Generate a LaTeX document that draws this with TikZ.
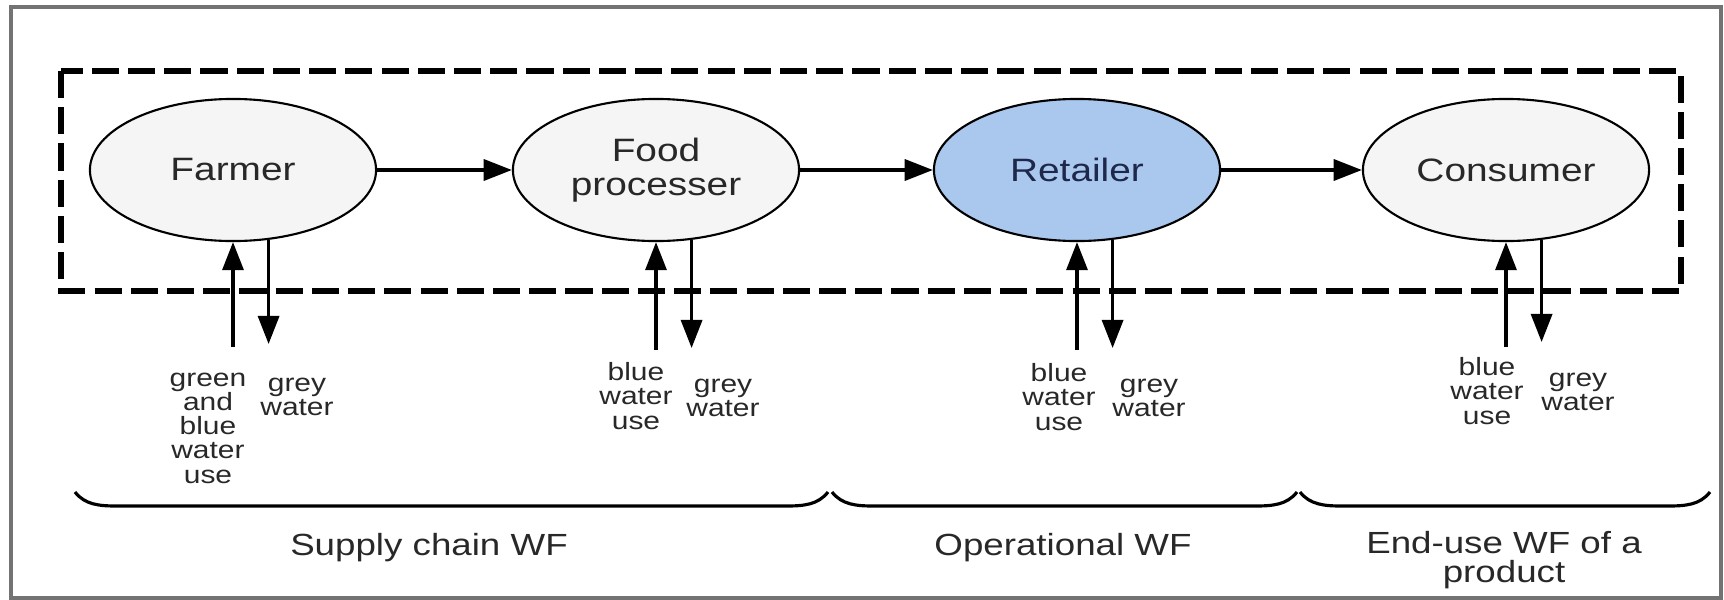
\documentclass[tikz,border=0pt]{standalone}
\usepackage{fontspec}
\setmainfont[FakeStretch=1.2]{Liberation Sans}
\usetikzlibrary{shapes.geometric,arrows.meta}

\definecolor{stagefill}{RGB}{245,245,245}
\definecolor{retailfill}{RGB}{170,200,238}
\definecolor{retailtext}{RGB}{30,40,75}
\definecolor{inkgrey}{RGB}{40,40,40}
\newcommand\tightlines{\lineskiplimit=-5pt\relax}

\begin{document}
\begin{tikzpicture}[x=0.01cm,y=-0.01cm,
		stage/.style={ellipse,draw,line width=0.6pt,fill=stagefill,minimum width=2.86cm,minimum height=1.42cm,inner sep=0pt,align=center,text=inkgrey,font=\fontsize{9.2}{9.6}\selectfont},
		flow/.style={line width=0.9pt,-{Triangle[length=8pt,width=6pt]}},
		note/.style={align=center,inner sep=0pt,text=inkgrey,font=\fontsize{7.1}{6.9}\selectfont\tightlines},
		phase/.style={align=center,inner sep=0pt,text=inkgrey,font=\fontsize{8.7}{8.2}\selectfont\tightlines},
		brace/.style={line width=0.9pt}]
		\useasboundingbox (0,0) rectangle (1724,600);
		\draw[black!55,line width=0.9pt] (11,7) rectangle (1721,598);
		% system boundary
		\draw[line width=1.5pt,dash pattern=on 7.7pt off 2.6pt] (61,71) rectangle (1681,291);
		% the four stages
		\node[stage] (farmer) at (233,170) {Farmer};
		\node[stage] (processer) at (656,170) {Food\\processer};
		\node[stage,fill=retailfill,text=retailtext] (retailer) at (1077,170) {Retailer};
		\node[stage] (consumer) at (1506,170) {Consumer};
		\draw[flow] (farmer) -- (processer);
		\draw[flow] (processer) -- (retailer);
		\draw[flow] (retailer) -- (consumer);
		% water in and out
		\coordinate (farmerin) at (233,347);
		\coordinate (farmerout) at (268,344);
		\coordinate (processerin) at (656,350);
		\coordinate (processerout) at (691,348);
		\coordinate (retailerin) at (1077,350);
		\coordinate (retailerout) at (1112,348);
		\coordinate (consumerin) at (1506,347);
		\coordinate (consumerout) at (1541,342);
		\draw[flow] (farmerin) -- (farmer.south);
		\draw[flow] (farmer.-63) -- (farmer.-63 |- farmerout);
		\draw[flow] (processerin) -- (processer.south);
		\draw[flow] (processer.-63) -- (processer.-63 |- processerout);
		\draw[flow] (retailerin) -- (retailer.south);
		\draw[flow] (retailer.-63) -- (retailer.-63 |- retailerout);
		\draw[flow] (consumerin) -- (consumer.south);
		\draw[flow] (consumer.-63) -- (consumer.-63 |- consumerout);
		\node[note] (farmeruse) at (208,428) {green\\and\\blue\\water\\use};
		\node[note] (farmergrey) at (297,397) {grey\\water};
		\node[note] (processeruse) at (636,396) {blue\\water\\use};
		\node[note] (processergrey) at (723,398) {grey\\water};
		\node[note] (retaileruse) at (1059,397) {blue\\water\\use};
		\node[note] (retailergrey) at (1149,398) {grey\\water};
		\node[note] (consumeruse) at (1487,391) {blue\\water\\use};
		\node[note] (consumergrey) at (1578,392) {grey\\water};
		% brackets under the chain
		\draw[brace] (75,492) .. controls (85,505) and (100,506) .. (117,506) -- (786,506) .. controls (803,506) and (818,505) .. (828,492);
		\draw[brace] (832,492) .. controls (842,505) and (857,506) .. (874,506) -- (1255,506) .. controls (1272,506) and (1287,505) .. (1297,492);
		\draw[brace] (1300,492) .. controls (1310,505) and (1325,506) .. (1342,506) -- (1668,506) .. controls (1685,506) and (1700,505) .. (1710,492);
		\node[phase] (supply) at (429,548) {Supply chain WF};
		\node[phase] (operational) at (1063,548) {Operational WF};
		\node[phase] (enduse) at (1504,560) {End-use WF of a\\product};
	\end{tikzpicture}
\end{document}
